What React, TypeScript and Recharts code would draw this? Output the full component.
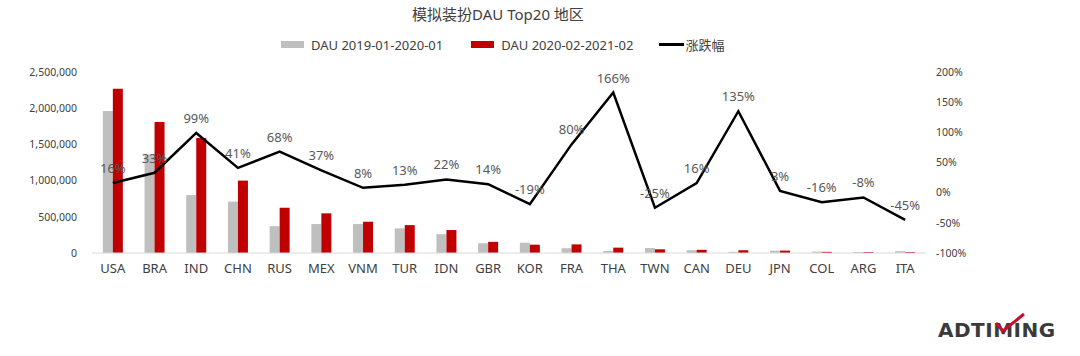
import React from "react";
import {
  ComposedChart,
  Bar,
  Line,
  XAxis,
  YAxis,
  LabelList,
} from "recharts";

const categories = ["USA", "BRA", "IND", "CHN", "RUS", "MEX", "VNM", "TUR", "IDN", "GBR", "KOR", "FRA", "THA", "TWN", "CAN", "DEU", "JPN", "COL", "ARG", "ITA"];
const dauPrev = [1960000, 1360000, 800000, 710000, 370000, 400000, 400000, 340000, 260000, 135000, 142000, 66000, 28000, 68000, 38000, 16000, 32000, 19000, 14000, 25000];
const dauCurr = [2270000, 1810000, 1590000, 1000000, 625000, 548000, 432000, 385000, 317000, 154000, 115000, 119000, 74000, 51000, 44000, 38000, 33000, 16000, 13000, 14000];
const changePct = [16, 33, 99, 41, 68, 37, 8, 13, 22, 14, -19, 80, 166, -25, 16, 135, 3, -16, -8, -45];
const leftTicks = [0, 500000, 1000000, 1500000, 2000000, 2500000];
const rightTicks = [-100, -50, 0, 50, 100, 150, 200];

const data = categories.map((c, i) => ({
  name: c,
  prev: dauPrev[i],
  curr: dauCurr[i],
  pct: changePct[i],
}));

const FONT = '"Noto Sans", "Noto Sans CJK SC", sans-serif';
const TXT = "#404040";

export default function App() {
  return (
    <div
      style={{
        position: "absolute",
        left: 0,
        top: 0,
        width: 1080,
        height: 356,
        background: "#ffffff",
        fontFamily: FONT,
        overflow: "hidden",
      }}
    >
      <div
        style={{
          position: "absolute",
          left: 0,
          width: 996,
          top: 3,
          textAlign: "center",
          fontSize: 15,
          color: TXT,
        }}
      >
        模拟装扮DAU Top20 地区
      </div>
      <div
        style={{
          position: "absolute",
          top: 35,
          left: 281,
          display: "flex",
          alignItems: "center",
          fontSize: 13,
          color: TXT,
          whiteSpace: "nowrap",
        }}
      >
        <span style={{ display: "inline-block", width: 23, height: 7, background: "#bfbfbf", marginRight: 7 }} />
        <span style={{ marginRight: 28 }}>DAU 2019-01-2020-01</span>
        <span style={{ display: "inline-block", width: 23, height: 7, background: "#c00000", marginRight: 7 }} />
        <span style={{ marginRight: 26 }}>DAU 2020-02-2021-02</span>
        <span style={{ display: "inline-block", width: 25, height: 3, background: "#000000", marginRight: 1 }} />
        <span>涨跌幅</span>
      </div>
      <div style={{ position: "absolute", left: 0, top: 0 }}>
        <ComposedChart
          width={1080}
          height={356}
          data={data}
          margin={{ top: 72, right: 94, bottom: 73, left: 0 }}
          barCategoryGap="26%"
          barGap={0}
        >
          <XAxis
            dataKey="name"
            tickLine={false}
            axisLine={{ stroke: "#d9d9d9" }}
            tick={{ fontSize: 13, fill: TXT, fontFamily: FONT }}
            tickMargin={5}
            height={30}
            interval={0}
          />
          <YAxis
            yAxisId="left"
            width={92}
            domain={[0, 2500000]}
            ticks={leftTicks}
            tickFormatter={(v: number) => v.toLocaleString("en-US")}
            tickLine={false}
            axisLine={false}
            tick={{ fontSize: 10.5, fill: TXT, fontFamily: FONT }}
            tickMargin={9}
          />
          <YAxis
            yAxisId="right"
            orientation="right"
            width={60}
            domain={[-100, 200]}
            ticks={rightTicks}
            tickFormatter={(v: number) => `${v}%`}
            tickLine={false}
            axisLine={false}
            tick={{ fontSize: 10.5, fill: TXT, fontFamily: FONT }}
            tickMargin={4}
          />
          <Bar yAxisId="left" dataKey="prev" fill="#bfbfbf" isAnimationActive={false} />
          <Bar yAxisId="left" dataKey="curr" fill="#c00000" isAnimationActive={false} />
          <Line
            yAxisId="right"
            dataKey="pct"
            stroke="#000000"
            strokeWidth={2.5}
            dot={false}
            type="linear"
            isAnimationActive={false}
          >
            <LabelList
              dataKey="pct"
              position="top"
              offset={10}
              formatter={(v: number) => `${v}%`}
              style={{ fontSize: 13, fill: "#595959", fontFamily: FONT }}
            />
          </Line>
        </ComposedChart>
      </div>
      <div
        style={{
          position: "absolute",
          left: 938,
          top: 318,
          fontSize: 20,
          fontWeight: 700,
          letterSpacing: 0.5,
          color: "#3a3a3a",
          fontFamily: '"DejaVu Sans", sans-serif',
        }}
      >
        ADTIMING
      </div>
      <svg
        style={{ position: "absolute", left: 0, top: 0 }}
        width={1080}
        height={356}
      >
        <polyline
          points="996,323 1003,331 1024,314"
          fill="none"
          stroke="#c8102e"
          strokeWidth={3}
          strokeLinejoin="round"
        />
      </svg>
    </div>
  );
}
